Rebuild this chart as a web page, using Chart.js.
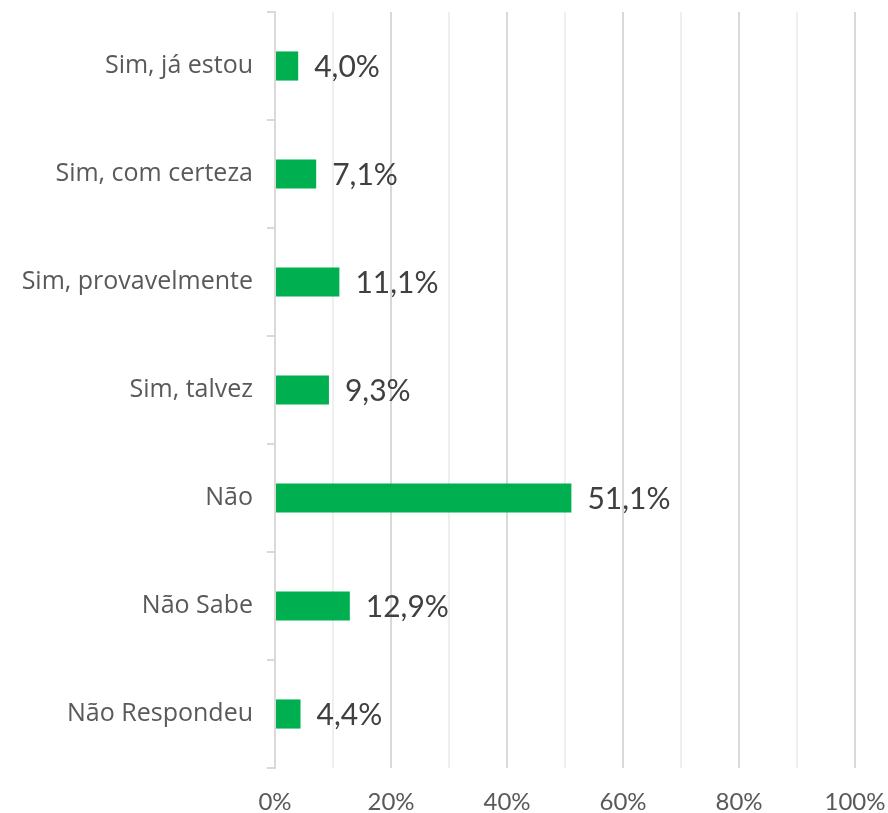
<!DOCTYPE html>
<html>
<head>
<meta charset="utf-8">
<script src="https://cdn.jsdelivr.net/npm/chart.js@4/dist/chart.umd.min.js"></script>
<style>
  html, body { margin: 0; padding: 0; background: #ffffff; }
  #wrap { width: 888px; height: 813px; }
</style>
</head>
<body>
<div id="wrap"><canvas id="grafico"></canvas></div>
<script>
const categorias = ["Sim, já estou", "Sim, com certeza", "Sim, provavelmente", "Sim, talvez", "Não", "Não Sabe", "Não Respondeu"];
const valores = [4.0, 7.1, 11.1, 9.3, 51.1, 12.9, 4.4];
const ticksX = [0, 20, 40, 60, 80, 100];

const fonte = "Lato, 'Open Sans', sans-serif";
const fonteEixo = "'Open Sans', sans-serif";

function formatar(v) {
  return v.toFixed(1).replace(".", ",") + "%";
}

// rótulos de valor ao lado de cada barra
const rotulos = {
  id: "rotulos",
  afterDatasetsDraw(chart) {
    let ctx = chart.ctx;
    let meta = chart.getDatasetMeta(0);
    ctx.save();
    ctx.font = "30px " + fonte;
    ctx.fillStyle = "#404040";
    ctx.textAlign = "left";
    ctx.textBaseline = "middle";
    meta.data.forEach((bar, i) => {
      ctx.fillText(formatar(valores[i]), bar.x + 16, bar.y + 1);
    });
    ctx.restore();
  },
};

new Chart(document.getElementById("grafico"), {
  type: "bar",
  data: {
    labels: categorias,
    datasets: [
      {
        data: valores,
        backgroundColor: "#00B050",
        barPercentage: 0.27,
        categoryPercentage: 1,
      },
    ],
  },
  options: {
    indexAxis: "y",
    responsive: true,
    maintainAspectRatio: false,
    animation: false,
    layout: { padding: { top: 12, right: 33, left: 0, bottom: 0 } },
    plugins: { legend: { display: false }, tooltip: { enabled: false } },
    scales: {
      x: {
        min: 0,
        max: 100,
        ticks: {
          stepSize: 10,
          padding: 20,
          color: "#595959",
          font: { family: fonte, size: 24 },
          maxRotation: 0,
          autoSkip: false,
          callback: (v) => (ticksX.includes(v) ? v + "%" : ""),
        },
        grid: {
          drawTicks: false,
          color: (c) => (c.tick && ticksX.includes(c.tick.value) ? "#d9d9d9" : "#efefef"),
          lineWidth: 2,
        },
        border: { display: false },
        afterFit: (s) => {
          s.height = 45;
          s.paddingLeft = 0;
          s.paddingRight = 0;
        },
      },
      y: {
        ticks: {
          color: "#595959",
          font: { family: fonteEixo, size: 25 },
          padding: 14,
        },
        grid: {
          offset: true,
          drawOnChartArea: false,
          tickLength: 8,
          color: "#d9d9d9",
          lineWidth: 2,
        },
        border: { color: "#d9d9d9", width: 2 },
        afterFit: (s) => {
          s.width = 275;
          s.paddingTop = 0;
          s.paddingBottom = 0;
        },
      },
    },
  },
  plugins: [rotulos],
});
</script>
</body>
</html>
